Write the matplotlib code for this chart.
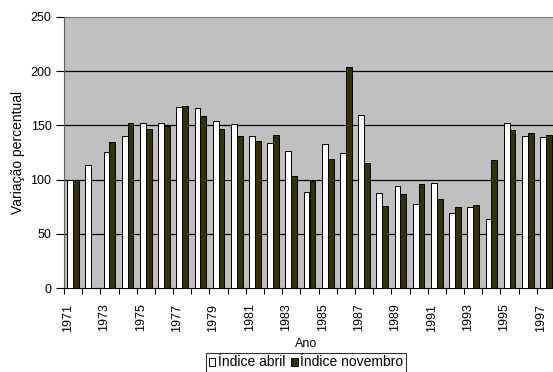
import numpy as np
import matplotlib.pyplot as plt
from matplotlib.patches import Patch

plt.rcParams['font.family'] = ['Liberation Sans', 'DejaVu Sans']

anos = list(range(1971, 1998))
abril = [100, 113.5, 125.5, 140.5, 152, 151.8, 167, 165.6, 153.7, 151,
         140.5, 134, 126.7, 89, 132.8, 124.5, 159.2, 87.4, 93.9, 77.9,
         97, 69.3, 75.2, 64.1, 151.8, 139.9, 139.3]
novembro = [100, np.nan, 135, 151.8, 147, 149.7, 167.8, 159, 147, 140,
            135.3, 140.8, 103.4, 99, 119.3, 203.4, 115.3, 76, 87, 96.3,
            82.2, 74.5, 76.4, 117.8, 146, 142.6, 140.8]
rotulos = [str(a) if (a - 1971) % 2 == 0 else '' for a in anos]

fig = plt.figure(figsize=(5.53, 3.72), dpi=100)
ax = fig.add_axes([64 / 553, (372 - 288.3) / 372, 491 / 553, 271.6 / 372])
ax.set_facecolor('#c0c0c0')

x = np.arange(len(anos))
w = 0.32
ax.bar(x - w / 2, abril, w, color='white', edgecolor='black', linewidth=0.7, zorder=3)
ax.bar(x + w / 2, novembro, w, color='#333300', edgecolor='black', linewidth=0.7, zorder=3)

ax.set_ylim(0, 250)
ax.set_xlim(-0.5, len(anos) - 0.5)
ax.set_yticks(range(0, 251, 50))
for v in range(50, 251, 50):
    ax.axhline(v, color='black' if v < 250 else '#808080', linewidth=0.9, zorder=1)

# tick marks between categories, labels (every other year) nearly centred
ax.set_xticks(x - 0.5)
ax.set_xticklabels([])
ax.set_xticks(x - 0.28, minor=True)
ax.set_xticklabels(rotulos, minor=True, rotation=90, fontsize=9, va='top')
ax.tick_params(axis='x', which='minor', length=0, pad=11)
ax.tick_params(axis='x', which='major', length=4, direction='out', width=0.8)
ax.tick_params(axis='y', length=6, direction='out', width=0.8, labelsize=9, pad=3)

for s in ['top', 'right']:
    ax.spines[s].set_visible(False)
ax.spines['left'].set_color('#606060')
ax.spines['bottom'].set_color('black')

ax.set_xlabel('Ano', fontsize=9)
ax.xaxis.set_label_coords(0.493, -0.183)
ax.set_ylabel('Variação percentual', fontsize=10)
ax.yaxis.set_label_coords(-0.079, 0.5)

handles = [Patch(facecolor='white', edgecolor='black', linewidth=0.7),
           Patch(facecolor='#333300', edgecolor='black', linewidth=0.7)]
leg = fig.legend(handles, ['Índice abril', 'Índice novembro'], loc='center',
                 bbox_to_anchor=(306 / 553, 1 - 362.5 / 372), ncol=2, fontsize=10,
                 frameon=True, fancybox=False, handlelength=0.5, handleheight=0.5,
                 handletextpad=0.2, columnspacing=0.35, borderpad=0.15,
                 borderaxespad=0)
leg.get_frame().set_edgecolor('black')
leg.get_frame().set_linewidth(0.8)

fig.savefig('out.png', dpi=100)
